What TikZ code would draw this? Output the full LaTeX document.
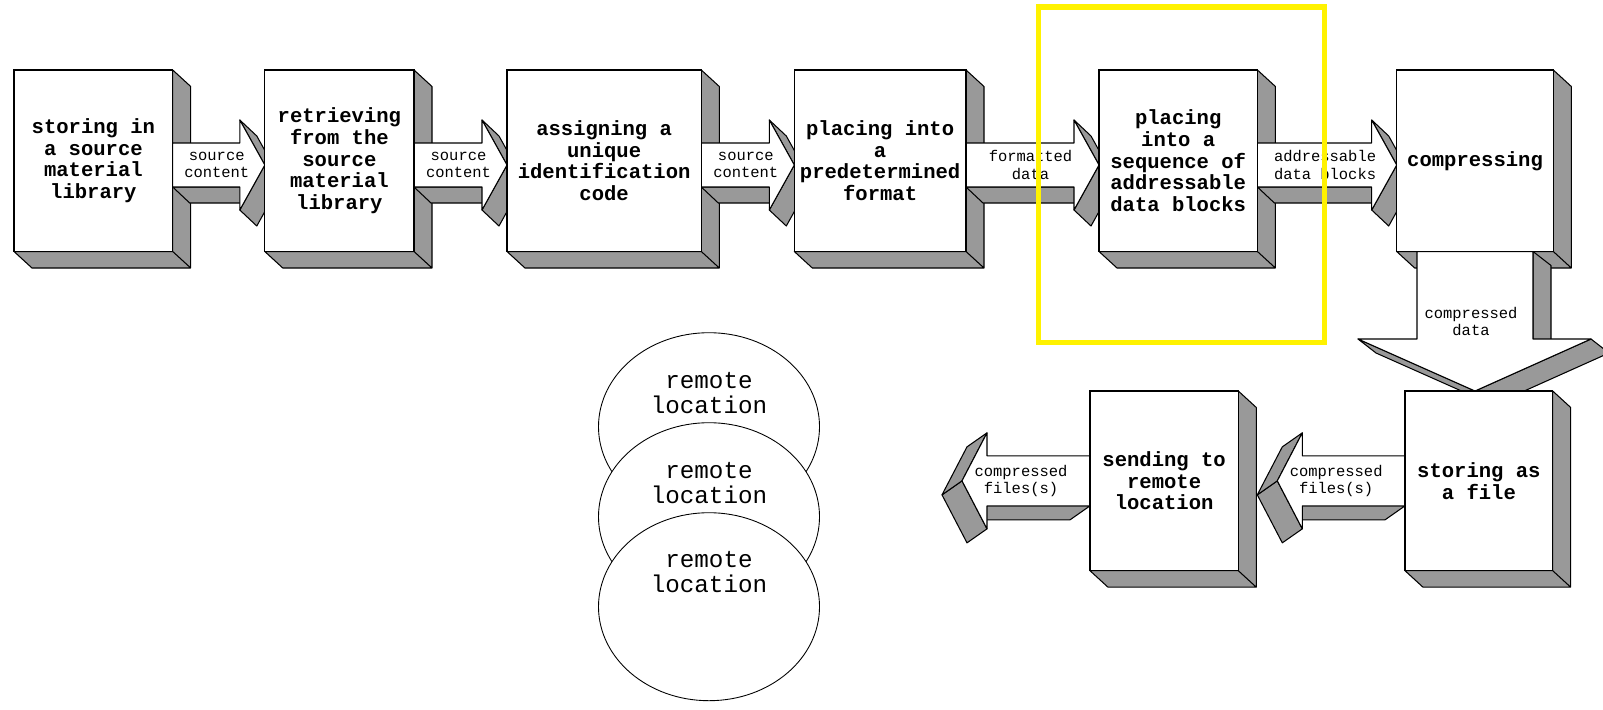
\documentclass[tikz,border=0pt]{standalone}
\usepackage{fontspec}
\setmonofont{Liberation Mono}
\usetikzlibrary{calc,shapes.geometric}
\definecolor{shadegray}{RGB}{153,153,153}
\pgfdeclarelayer{shade}
\pgfdeclarelayer{flow}
\pgfsetlayers{shade,flow,main}
\newcommand\pxu{0.02cm}
% extruded side of a box
\newcommand\boxshade[1]{%
  \draw[shade face] (#1.north east) -- ++(18,16.5) -- ($(#1.south east)+(18,16.5)$) -- ($(#1.south west)+(18,16.5)$) -- (#1.south west) -- (#1.south east) -- cycle (#1.south east) -- ++(18,16.5);}
% fat arrow pointing right
\newcommand\rightflow[5]{%
  \coordinate (ra) at (#1.east |- 0,#3);
  \coordinate (rt) at (#2.west |- 0,#3);
  \draw[shade face] ($(rt)+(-25,22)$) -- ($(ra)+(0,22)$) -- ($(ra)+(17,38)$) -- ($(rt)+(-8,38)$) -- cycle;
  \draw[shade face] (rt) -- ($(rt)+(-25,45)$) -- ($(rt)+(-8,61)$) -- ($(rt)+(17,16)$) -- cycle;
  \draw[shade face] ($(rt)+(-25,-45)$) -- (rt) -- ($(rt)+(17,16)$) -- ($(rt)+(-8,-29)$) -- cycle;
  \draw[arrow face] ($(ra)+(0,-22)$) -- ($(rt)+(-25,-22)$) -- ($(rt)+(-25,-45)$) -- (rt) -- ($(rt)+(-25,45)$) -- ($(rt)+(-25,22)$) -- ($(ra)+(0,22)$) -- cycle;
  \node[flowlabel] (#4) at ($(ra)!0.5!(rt)+(-2,0)$) {#5};}
% fat arrow pointing left
\newcommand\leftflow[4]{%
  \coordinate (la) at (#1.west);
  \draw[shade face] ($(#2)+(25,25)$) -- ($(la)+(0,25)$) -- ($(la)+(-20,39)$) -- ($(#2)+(5,39)$) -- cycle;
  \draw[shade face] (#2) -- ($(#2)+(25,48)$) -- ($(#2)+(5,62)$) -- ($(#2)+(-20,14)$) -- cycle;
  \draw[shade face] ($(#2)+(25,-48)$) -- (#2) -- ($(#2)+(-20,14)$) -- ($(#2)+(5,-34)$) -- cycle;
  \draw[arrow face] ($(la)+(0,-25)$) -- ($(#2)+(25,-25)$) -- ($(#2)+(25,-48)$) -- (#2) -- ($(#2)+(25,48)$) -- ($(#2)+(25,25)$) -- ($(la)+(0,25)$) -- cycle;
  \node[flowlabel] (#3) at ($(la)!0.5!(#2)+(-5,0)$) {#4};}

\begin{document}
\begin{tikzpicture}[x=0.02cm, y=-0.02cm,
    stepbox/.style={draw, fill=white, line width=0.6pt, outer sep=0pt, inner sep=0pt, align=center,
      minimum height=181.5*\pxu, font=\ttfamily\bfseries\fontsize{11.7}{12.3}\selectfont},
    flowlabel/.style={align=center, inner sep=0pt, font=\ttfamily\fontsize{8.8}{9.7}\selectfont},
    shade face/.style={fill=shadegray, draw, line width=0.6pt, line join=round},
    arrow face/.style={fill=white, draw, line width=0.6pt, line join=round},
    remote/.style={ellipse, draw, fill=white, line width=0.5pt, minimum width=221*\pxu, minimum height=188*\pxu},
    remotetext/.style={align=center, inner sep=0pt, font=\ttfamily\fontsize{13.8}{14.2}\selectfont},
    highlight/.style={draw=yellow, line width=2.85pt}]
  \useasboundingbox (0,0) rectangle (1603,710);

  % top row of steps
  \node[stepbox, minimum width=158.7*\pxu] (store) at (93.35,160.75) {storing in\\a source\\material\\library};
  \node[stepbox, minimum width=149.2*\pxu] (retrieve) at (339.4,160.75) {retrieving\\from the\\source\\material\\library};
  \node[stepbox, minimum width=194.3*\pxu] (assign) at (604.15,160.75) {assigning a\\unique\\identification\\code};
  \node[stepbox, minimum width=171.7*\pxu] (format) at (880.15,160.75) {placing into\\a\\predetermined\\format};
  \node[stepbox, minimum width=158.4*\pxu] (block) at (1178.2,160.75) {placing\\into a\\sequence of\\addressable\\data blocks};
  \node[stepbox, minimum width=156.6*\pxu] (compress) at (1475,160.75) {compressing};
  % bottom row
  \node[stepbox, minimum width=147.7*\pxu, minimum height=179.7*\pxu] (file) at (1478.85,480.85) {storing as\\a file};
  \node[stepbox, minimum width=148.3*\pxu, minimum height=179.7*\pxu] (send) at (1164.15,480.85) {sending to\\remote\\location};

  \begin{pgfonlayer}{shade}
    \foreach \n in {store,retrieve,assign,format,block,compress,file,send} {\boxshade{\n}}
  \end{pgfonlayer}

  \begin{pgfonlayer}{flow}
    \rightflow{store}{retrieve}{165}{lab1}{source\\content}
    \rightflow{retrieve}{assign}{165}{lab2}{source\\content}
    \rightflow{assign}{format}{165}{lab3}{source\\content}
    \rightflow{format}{block}{165}{lab4}{formatted\\data}
    \rightflow{block}{compress}{165}{lab5}{addressable\\data blocks}
    % down to the file
    \coordinate (dt) at (compress.south |- file.north);
    \draw[shade face] ($(compress.south)+(58,0)$) -- ($(dt)+(58,-52)$) -- ($(dt)+(76,-38)$) -- ($(compress.south)+(76,14)$) -- cycle;
    \draw[shade face] ($(dt)+(-117,-52)$) -- (dt) -- ($(dt)+(18,14)$) -- ($(dt)+(-99,-38)$) -- cycle;
    \draw[shade face] (dt) -- ($(dt)+(116,-52)$) -- ($(dt)+(134,-38)$) -- ($(dt)+(18,14)$) -- cycle;
    \draw[arrow face] ($(compress.south)+(-58,0)$) -- ($(compress.south)+(58,0)$) -- ($(dt)+(58,-52)$) -- ($(dt)+(116,-52)$) -- (dt) -- ($(dt)+(-117,-52)$) -- ($(dt)+(-58,-52)$) -- cycle;
    \node[flowlabel] (lab6) at ($(compress.south)!0.5!(dt)+(-4,0)$) {compressed\\data};
    % back to the left
    \coordinate (tipA) at ($(send.east)+(39,0)$);
    \coordinate (tipB) at ($(send.west)+(-128,0)$);
    \leftflow{file}{tipA}{lab7}{compressed\\files(s)}
    \leftflow{send}{tipB}{lab8}{compressed\\files(s)}
  \end{pgfonlayer}

  % remote locations
  \node[remote] (loc1) at (709,426.7) {};
  \node[remotetext] (loc1txt) at ($(loc1.center)+(0,-34)$) {remote\\location};
  \node[remote] (loc2) at (709,516.7) {};
  \node[remotetext] (loc2txt) at ($(loc2.center)+(0,-34)$) {remote\\location};
  \node[remote] (loc3) at (709,606.7) {};
  \node[remotetext] (loc3txt) at ($(loc3.center)+(0,-35)$) {remote\\location};

  \draw[highlight] (1038,7) rectangle (1324,342.5);
\end{tikzpicture}
\end{document}
